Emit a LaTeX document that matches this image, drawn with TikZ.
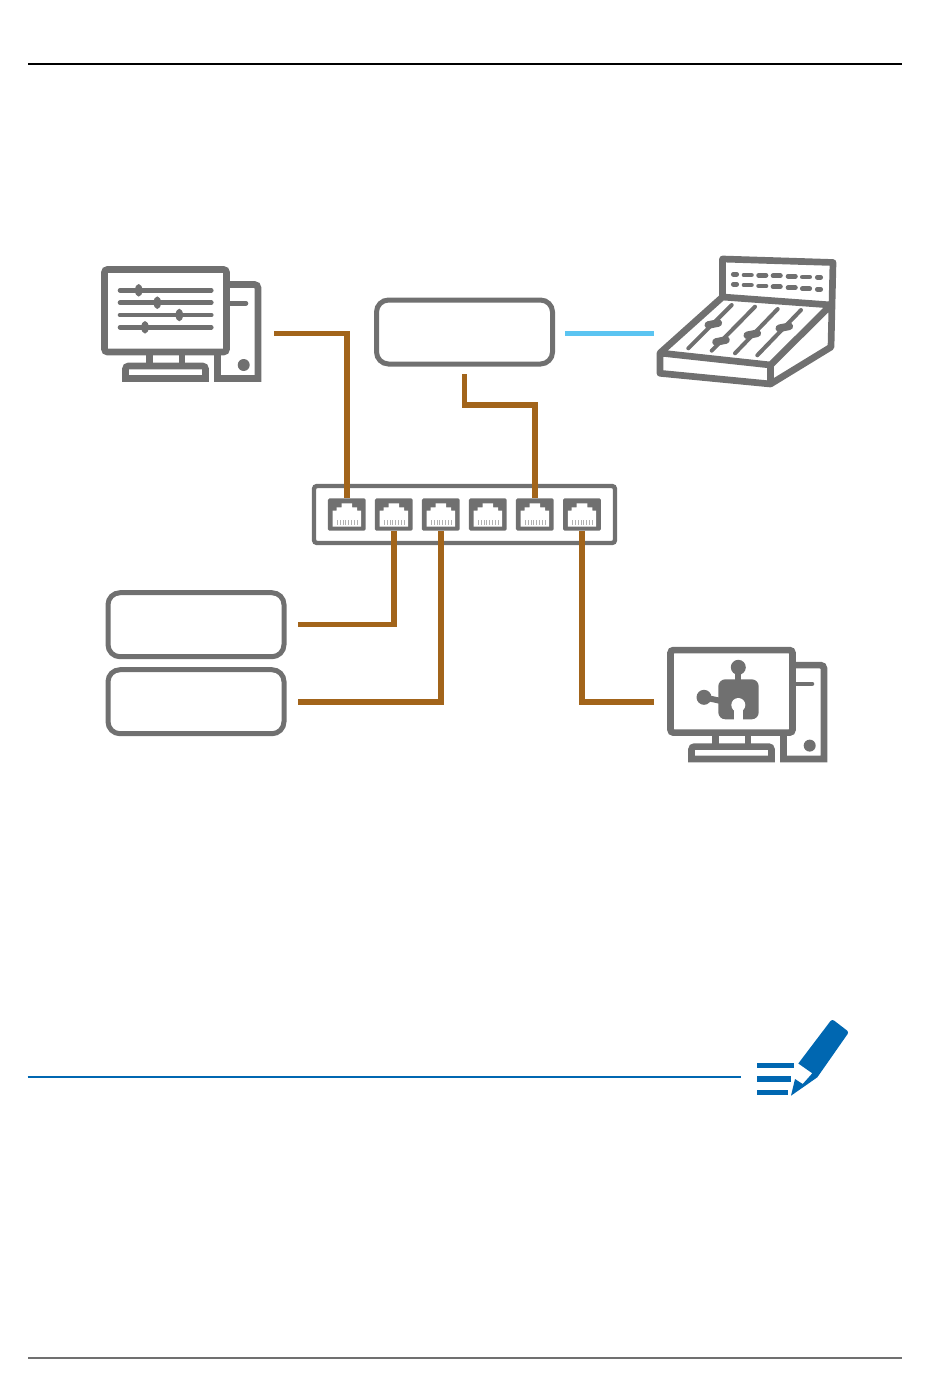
\documentclass[tikz,border=0pt]{standalone}
\usepackage{amsmath,amssymb}
\usepackage{tikz}
\usetikzlibrary{calc}

\definecolor{icongray}{HTML}{707070}
\definecolor{cablebrown}{HTML}{A2641A}
\definecolor{cableblue}{HTML}{5BC4F1}
\definecolor{noteblue}{HTML}{0067B1}

\begin{document}
\begin{tikzpicture}[x=1pt,y=-1pt,
			icon/.style={draw=icongray,line width=6.7pt},
			stroke/.style={draw=icongray,line cap=round},
			cable/.style={draw=cablebrown,line width=5.4pt},
			device/.style={draw=icongray,line width=5pt,rounded corners=12pt,fill=white,
				minimum width=176pt,minimum height=64pt,inner sep=0pt,outer sep=0pt},
			port/.style={fill=icongray,rounded corners=1.5pt,
				minimum width=37.7pt,minimum height=32.4pt,inner sep=0pt,outer sep=0pt},
			pc/.pic={
				\draw[icon,rounded corners=3pt] (3.5,3.5) rectangle (125.5,86);
				\draw[icon] (48.3,89) -- (48.3,97);
				\draw[icon] (81,89) -- (81,97);
				\draw[icon] (24.5,112.4) [rounded corners=3pt] -- (24.5,100) -- (104.5,100) [sharp corners] -- (104.5,112.4) -- cycle;
				\draw[icon] (129,18.5) [rounded corners=3.5pt] -- (157,18.5) [sharp corners] -- (157,112.4) -- (116.5,112.4) -- (116.5,89);
				\draw[stroke,line width=4.6pt] (129,37.3) -- (145,37.3);
				\fill[icongray] (142.7,99) circle (6);
			}]
			\useasboundingbox (0,0) rectangle (950,1397);
			
			% Page rules
			\draw[black,line width=2.2pt] (28,64) -- (901.7,64);
			\draw[icongray,line width=2pt] (28,1358) -- (901.7,1358);
			\draw[noteblue,line width=2pt] (27.5,1076.7) -- (741,1076.7);
			
			% Switch with six ports
			\node[draw=icongray,line width=4.4pt,rounded corners=3pt,inner sep=0pt,outer sep=0pt,
				minimum width=301pt,minimum height=57pt] (switch) at (464.5,514.5) {};
			\foreach \n/\x in {1/346.8,2/393.8,3/440.8,4/487.8,5/534.8,6/582}{
				\node[port] (p\n) at (\x,514.5) {};
				\begin{scope}[shift={(\x,514.5)}]
					\fill[white] (-14.2,12.2) -- (-14.2,-3.8) -- (-10.3,-3.8) -- (-10.3,-7.2) -- (-5.3,-7.2)
					-- (-5.3,-11.2) -- (5.3,-11.2) -- (5.3,-7.2) -- (10.3,-7.2) -- (10.3,-3.8)
					-- (14.2,-3.8) -- (14.2,12.2) -- cycle;
					\foreach \t in {-9.5,-6.7,...,10.2}
					\draw[gray!60,line width=0.8pt] (\t,5.5) -- (\t,10.5);
				\end{scope}
			}
			
			% Devices without icons
			\node[device] (mid) at (464.5,332) {};
			\node[device] (boxa) at (196,624.7) {};
			\node[device] (boxb) at (196,701.7) {};
			
			% Free cable ends
			\coordinate (pcaout) at (274.3,333.3);
			\coordinate (midout) at (464.3,374.3);
			\coordinate (midbend) at (534.8,405);
			\coordinate (boxaout) at (298.3,624.7);
			\coordinate (boxbout) at (298.3,702);
			\coordinate (pcbout) at (654,702);
			\coordinate (blueout) at (565,333.3);
			\coordinate (mixerin) at (654,333.3);
			
			% Cables
			\draw[cable] (pcaout) -| (p1.north);
			\draw[cable] (midout) |- (midbend) -- (p5.north);
			\draw[cable] (boxaout) -| (p2.south);
			\draw[cable] (boxbout) -| (p3.south);
			\draw[cable] (pcbout) -| (p6.south);
			\draw[draw=cableblue,line width=5pt] (blueout) -- (mixerin);
			
			% Left computer with sliders
			\pic at (101,266) {pc};
			\foreach \y/\k in {290.3/138.7,302.7/157.3,315/179.3,327.3/145}{
				\draw[stroke,line width=4.6pt] (120,\y) -- (211.3,\y);
				\fill[icongray] (\k,\y) ellipse (3.7 and 6.3);
			}
			
			% Right computer with puzzle piece
			\pic at (667,646.6) {pc};
			\draw[icongray,line width=6pt] (738.3,667.3) -- (738.3,682);
			\draw[icongray,line width=6pt] (704,697.3) -- (721,701);
			\fill[icongray] (738.3,667.3) circle (7.5);
			\fill[icongray] (704,697.3) circle (7.5);
			\fill[icongray,rounded corners=7pt] (718.3,679.3) rectangle (758.7,719.3);
			\fill[white] (738.3,705) circle (7);
			\fill[white] (734,705) rectangle (742.6,720);
			
			% Mixing desk
			\draw[icon,line join=round] (722.5,297) -- (722.5,259) -- (833,262.5) -- (831,347) -- (770.5,384)
			-- (660,373.3) -- (660,353) -- (722.5,297) -- (831,305) -- (770.5,365) -- (660,353);
			\draw[icon] (770.5,365) -- (770.5,384);
			\foreach \a/\b/\c/\d in {688.3/348.3/731.7/305,711.7/350.7/755/306.7,735/353.3/777.7/309,757.3/355.3/801/310}
			\draw[stroke,line width=4pt] (\a,\b) -- (\c,\d);
			\foreach \x/\y in {713.3/324,721/341,752.3/334.3,784.3/327.3}
			\draw[stroke,line width=7.6pt] (\x-5,\y+1) -- (\x+5,\y-1);
			\foreach \x/\y/\l in {735/274.3/1.7,747.7/275/3.7,762.3/275.3/3.7,776.7/275.7/3.7,791.7/276.3/3.7,806/277/3.7,819/277.3/1.7,
				735/284.3/1.7,747.7/285/3.7,762.3/286/3.7,776.7/286.7/3.7,791.7/287.7/3.7,806/288.7/3.7,819/289.3/1.7}
			\draw[stroke,line width=4.7pt] (\x-\l,\y) -- (\x+\l,\y);
			
			% Note pen
			\fill[noteblue] (757.3,1063) rectangle (794,1068.3);
			\fill[noteblue] (757.3,1076.3) rectangle (791,1082);
			\fill[noteblue] (757.3,1089.7) rectangle (787.7,1095);
			\fill[noteblue] (798.3,1063.5) [rounded corners=2.5pt] -- (832,1019) -- (849,1032) [sharp corners] -- (817.3,1077.3)
			-- (791,1095.7) -- (795,1079) -- (802.7,1084) -- (812.3,1073.3) -- cycle;
			
\end{tikzpicture}
\end{document}
